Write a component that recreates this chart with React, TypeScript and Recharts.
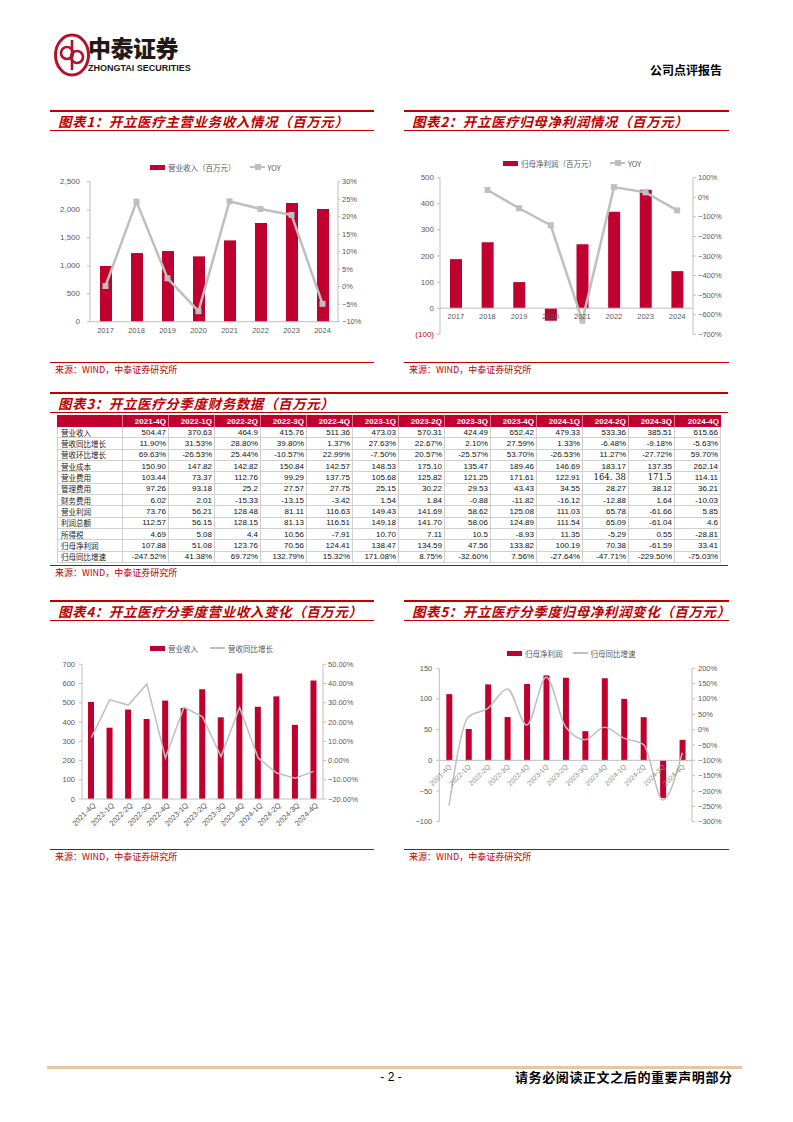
import React from 'react';
import { ComposedChart, Bar, Line, XAxis, YAxis, ReferenceLine } from 'recharts';

// ---- annual data (图表1 / 图表2)
const years = ['2017', '2018', '2019', '2020', '2021', '2022', '2023', '2024'];
const annualRevenue = [995, 1226, 1262, 1167, 1452, 1763, 2120, 2014];
const annualRevenueYoy = [0.2, 24.3, 2.4, -7.0, 24.4, 22.2, 20.5, -4.9];
const annualProfit = [188, 253, 100, -48, 245, 370, 454, 142];
const annualProfitYoy: (number | null)[] = [null, 37, -56, -143, -630, 52, 25, -67];

// ---- quarterly data (图表3 / 4 / 5)
const quarters = ['2021-4Q', '2022-1Q', '2022-2Q', '2022-3Q', '2022-4Q', '2023-1Q', '2023-2Q', '2023-3Q', '2023-4Q', '2024-1Q', '2024-2Q', '2024-3Q', '2024-4Q'];
const revenueQ = [504.47, 370.63, 464.9, 415.76, 511.36, 473.03, 570.31, 424.49, 652.42, 479.33, 533.36, 385.51, 615.66];
const revenueYoyQ = [11.9, 31.53, 28.8, 39.8, 1.37, 27.63, 22.67, 2.1, 27.59, 1.33, -6.48, -9.18, -5.63];
const revenueQoqQ = ['69.63%', '-26.53%', '25.44%', '-10.57%', '22.99%', '-7.50%', '20.57%', '-25.57%', '53.70%', '-26.53%', '11.27%', '-27.72%', '59.70%'];
const costQ = ['150.90', '147.82', '142.82', '150.84', '142.57', '148.53', '175.10', '135.47', '189.46', '146.69', '183.17', '137.35', '262.14'];
const sellingQ = ['103.44', '73.37', '112.76', '99.29', '137.75', '105.68', '125.82', '121.25', '171.61', '122.91', '164. 38', '171.5', '114.11'];
const adminQ = ['97.26', '93.18', '25.2', '27.57', '27.75', '25.15', '30.22', '29.53', '43.43', '34.55', '28.27', '38.12', '36.21'];
const financeQ = ['6.02', '2.01', '-15.33', '-13.15', '-3.42', '1.54', '1.84', '-0.88', '-11.82', '-16.12', '-12.88', '1.64', '-10.03'];
const opProfitQ = ['73.76', '56.21', '128.48', '81.11', '116.63', '149.43', '141.69', '58.62', '125.08', '111.03', '65.78', '-61.66', '5.85'];
const totalProfitQ = ['112.57', '56.15', '128.15', '81.13', '116.51', '149.18', '141.70', '58.06', '124.89', '111.54', '65.09', '-61.04', '4.6'];
const taxQ = ['4.69', '5.08', '4.4', '10.56', '-7.91', '10.70', '7.11', '10.5', '-8.93', '11.35', '-5.29', '0.55', '-28.81'];
const netProfitQ = [107.88, 51.08, 123.76, 70.56, 124.41, 138.47, 134.59, 47.56, 133.82, 100.19, 70.38, -61.59, 33.41];
const netProfitYoyQ = [-247.52, 41.38, 69.72, 132.79, 15.32, 171.08, 8.75, -32.6, 7.56, -27.64, -47.71, -229.5, -75.03];

const RED = '#c0002f';
const TITLE_RED = '#c00000';
const GRAY = '#bfbfbf';
const AXIS = '#bfbfbf';
const TXT = '#595959';
const NUM = "'Liberation Sans', Arial, sans-serif";
const CJK = "'Noto Sans CJK SC', sans-serif";

const annualData = years.map((y, i) => ({ year: y, rev: annualRevenue[i], revYoy: annualRevenueYoy[i], np: annualProfit[i], npYoy: annualProfitYoy[i] }));
const quarterData = quarters.map((q, i) => ({ q, rev: revenueQ[i], revYoy: revenueYoyQ[i], np: netProfitQ[i], npYoy: netProfitYoyQ[i] }));

const tableRows: [string, string[]][] = [
  ['营业收入', revenueQ.map(v => String(v))],
  ['营收同比增长', revenueYoyQ.map(v => v.toFixed(2) + '%')],
  ['营收环比增长', revenueQoqQ],
  ['营业成本', costQ],
  ['营业费用', sellingQ],
  ['管理费用', adminQ],
  ['财务费用', financeQ],
  ['营业利润', opProfitQ],
  ['利润总额', totalProfitQ],
  ['所得税', taxQ],
  ['归母净利润', netProfitQ.map(v => String(v))],
  ['归母同比增速', netProfitYoyQ.map(v => v.toFixed(2) + '%')],
];

const minus = (v: number, s: string) => (v < 0 ? '−' : '') + s;

const yTick = (fmt: (v: number) => string, size = 8, color?: (v: number) => string) => (p: any) => (
  <text x={p.x} y={p.y} textAnchor={p.textAnchor} dominantBaseline="central" fontSize={size} fontFamily={NUM} fill={color ? color(p.payload.value) : TXT}>
    {fmt(p.payload.value)}
  </text>
);

const SquareDot = (p: any) => {
  if (p.cy == null || p.value == null) return <g key={p.index} />;
  return <rect key={p.index} x={p.cx - 3} y={p.cy - 3} width={6} height={6} fill={GRAY} />;
};

const Header = ({ x, w, y, title }: { x: number; w: number; y: number; title: string }) => (
  <>
    <div style={{ position: 'absolute', left: x, top: y, width: w, height: 2, background: TITLE_RED }} />
    <div style={{ position: 'absolute', left: x + 8, top: y + 3, height: 17, lineHeight: '17px', fontFamily: CJK, fontSize: 13.5, fontWeight: 700, fontStyle: 'italic', color: TITLE_RED, letterSpacing: 0.6, whiteSpace: 'nowrap' }}>{title}</div>
    <div style={{ position: 'absolute', left: x, top: y + 20, width: w, height: 1, background: TITLE_RED }} />
  </>
);

const Source = ({ x, w, y }: { x: number; w: number; y: number }) => (
  <>
    <div style={{ position: 'absolute', left: x, top: y, width: w, height: 1, background: TITLE_RED }} />
    <div style={{ position: 'absolute', left: x + 5, top: y + 2, lineHeight: '12px', fontFamily: CJK, fontSize: 9, color: TITLE_RED, whiteSpace: 'nowrap' }}>来源：WIND，中泰证券研究所</div>
  </>
);

const Legend = ({ x, y, items }: { x: number; y: number; items: { label: string; kind: 'bar' | 'line' | 'lineDot'; gap?: number }[] }) => (
  <div style={{ position: 'absolute', left: x, top: y - 6, height: 12, display: 'flex', alignItems: 'center', fontFamily: CJK, fontSize: 7.5, color: TXT, whiteSpace: 'nowrap' }}>
    {items.map((it, i) => (
      <div key={i} style={{ display: 'flex', alignItems: 'center', marginLeft: i ? it.gap ?? 14 : 0 }}>
        {it.kind === 'bar' ? (
          <div style={{ width: 15, height: 5, background: RED, marginRight: 3 }} />
        ) : (
          <div style={{ position: 'relative', width: 15, height: 6, marginRight: 3 }}>
            <div style={{ position: 'absolute', left: 0, top: 2, width: 15, height: 2, background: GRAY }} />
            {it.kind === 'lineDot' && <div style={{ position: 'absolute', left: 5, top: 0, width: 6, height: 6, background: GRAY }} />}
          </div>
        )}
        <span>{it.label}</span>
      </div>
    ))}
  </div>
);

const yearTick = (dy: number) => (p: any) => (
  <text x={p.x} y={p.y + dy} textAnchor="middle" dominantBaseline="central" fontSize={7.5} fontFamily={NUM} fill={TXT}>{p.payload.value}</text>
);

// chart 2 geometry, used to put the category labels under the zero line
const C2 = { top: 7.7, plotH: 156.6, min: -100, max: 500 };
const c2Zero = C2.top + (C2.plotH * C2.max) / (C2.max - C2.min);
// chart 5 geometry
const C5 = { top: 8.3, plotH: 153.4, min: -100, max: 150 };
const c5Zero = C5.top + (C5.plotH * C5.max) / (C5.max - C5.min);

const Chart1 = () => (
  <div style={{ position: 'absolute', left: 40, top: 175 }}>
    <ComposedChart width={340} height={170} data={annualData} margin={{ top: 6.7, right: 2, bottom: 3.3, left: 0 }}>
      <XAxis dataKey="year" height={20} interval={0} axisLine={{ stroke: AXIS }} tickLine={false} tickSize={0} tickMargin={0} tick={yearTick(8.5)} />
      <YAxis yAxisId="l" width={50} interval={0} domain={[0, 2500]} ticks={[0, 500, 1000, 1500, 2000, 2500]} axisLine={{ stroke: AXIS }} tickLine={{ stroke: AXIS }} tickSize={3} tickMargin={7}
        tick={yTick(v => v.toLocaleString('en-US'))} />
      <YAxis yAxisId="r" orientation="right" width={40} interval={0} domain={[-10, 30]} ticks={[-10, -5, 0, 5, 10, 15, 20, 25, 30]} axisLine={{ stroke: AXIS }} tickLine={{ stroke: AXIS }} tickSize={2} tickMargin={2}
        tick={yTick(v => minus(v, Math.abs(v) + '%'), 7.5)} />
      <Bar yAxisId="l" dataKey="rev" fill={RED} barSize={12} isAnimationActive={false} />
      <Line yAxisId="r" dataKey="revYoy" type="linear" stroke={GRAY} strokeWidth={2.5} dot={SquareDot} activeDot={false} isAnimationActive={false} />
    </ComposedChart>
  </div>
);

const Chart2 = () => (
  <div style={{ position: 'absolute', left: 400, top: 170 }}>
    <ComposedChart width={340} height={177} data={annualData} margin={{ top: C2.top, right: 2, bottom: 2.7, left: 0 }}>
      <XAxis dataKey="year" height={10} interval={0} axisLine={false} tickLine={false} tickSize={0} tickMargin={0}
        tick={(p: any) => <text x={p.x} y={c2Zero + 8} textAnchor="middle" dominantBaseline="central" fontSize={7.5} fontFamily={NUM} fill={TXT}>{p.payload.value}</text>} />
      <YAxis yAxisId="l" width={40} interval={0} domain={[C2.min, C2.max]} ticks={[-100, 0, 100, 200, 300, 400, 500]} axisLine={{ stroke: AXIS }} tickLine={{ stroke: AXIS }} tickSize={3} tickMargin={3}
        tick={yTick(v => (v < 0 ? `(${Math.abs(v)})` : String(v)), 8, v => (v < 0 ? TITLE_RED : TXT))} />
      <YAxis yAxisId="r" orientation="right" width={45} interval={0} domain={[-700, 100]} ticks={[-700, -600, -500, -400, -300, -200, -100, 0, 100]} axisLine={{ stroke: AXIS }} tickLine={{ stroke: AXIS }} tickSize={3} tickMargin={2}
        tick={yTick(v => minus(v, Math.abs(v) + '%'), 7.5)} />
      <ReferenceLine yAxisId="l" y={0} stroke={AXIS} />
      <Bar yAxisId="l" dataKey="np" fill={RED} barSize={12} isAnimationActive={false} />
      <Line yAxisId="r" dataKey="npYoy" type="linear" stroke={GRAY} strokeWidth={2.5} dot={SquareDot} activeDot={false} isAnimationActive={false} />
    </ComposedChart>
  </div>
);

const Chart4 = () => (
  <div style={{ position: 'absolute', left: 42, top: 655 }}>
    <ComposedChart width={333} height={186} data={quarterData} margin={{ top: 9.3, right: 2, bottom: 2, left: 0 }}>
      <XAxis dataKey="q" height={40} interval={0} axisLine={{ stroke: AXIS }} tickLine={false} tickSize={0} tickMargin={0}
        tick={(p: any) => (
          <text x={p.x + 3} y={p.y + 5} transform={`rotate(-45 ${p.x + 3} ${p.y + 5})`} textAnchor="end" dominantBaseline="central" fontSize={7.5} fontFamily={NUM} fill={TXT}>{p.payload.value}</text>
        )} />
      <YAxis yAxisId="l" width={40} interval={0} domain={[0, 700]} ticks={[0, 100, 200, 300, 400, 500, 600, 700]} axisLine={{ stroke: AXIS }} tickLine={{ stroke: AXIS }} tickSize={3} tickMargin={4}
        tick={yTick(v => String(v), 7.5)} />
      <YAxis yAxisId="r" orientation="right" width={50} interval={0} domain={[-20, 50]} ticks={[-20, -10, 0, 10, 20, 30, 40, 50]} axisLine={{ stroke: AXIS }} tickLine={{ stroke: AXIS }} tickSize={3} tickMargin={2}
        tick={yTick(v => minus(v, Math.abs(v).toFixed(2) + '%'), 7.5)} />
      <Bar yAxisId="l" dataKey="rev" fill={RED} barSize={6} isAnimationActive={false} />
      <Line yAxisId="r" dataKey="revYoy" type="linear" stroke={GRAY} strokeWidth={1.5} dot={false} activeDot={false} isAnimationActive={false} />
    </ComposedChart>
  </div>
);

const Chart5 = () => (
  <div style={{ position: 'absolute', left: 400, top: 660 }}>
    <ComposedChart width={339} height={172} data={quarterData} margin={{ top: C5.top, right: 2, bottom: 2.3, left: 0 }}>
      <XAxis dataKey="q" height={8} interval={0} axisLine={false} tickLine={false} tickSize={0} tickMargin={0}
        tick={(p: any) => (
          <text x={p.x + 1} y={c5Zero + 5} transform={`rotate(-45 ${p.x + 1} ${c5Zero + 5})`} textAnchor="end" dominantBaseline="central" fontSize={7} fontFamily={NUM} fill="#8c8c8c">{p.payload.value}</text>
        )} />
      <YAxis yAxisId="l" width={39.3} interval={0} domain={[C5.min, C5.max]} ticks={[-100, -50, 0, 50, 100, 150]} axisLine={{ stroke: AXIS }} tickLine={{ stroke: AXIS }} tickSize={3} tickMargin={4}
        tick={yTick(v => minus(v, String(Math.abs(v))), 7.5)} />
      <YAxis yAxisId="r" orientation="right" width={45} interval={0} domain={[-300, 200]} ticks={[-300, -250, -200, -150, -100, -50, 0, 50, 100, 150, 200]} axisLine={{ stroke: AXIS }} tickLine={{ stroke: AXIS }} tickSize={3} tickMargin={3}
        tick={yTick(v => minus(v, Math.abs(v) + '%'), 7.5)} />
      <ReferenceLine yAxisId="l" y={0} stroke={AXIS} />
      <Bar yAxisId="l" dataKey="np" fill={RED} barSize={6} isAnimationActive={false} />
      <Line yAxisId="r" dataKey="npYoy" type="monotone" stroke={GRAY} strokeWidth={1.5} dot={false} activeDot={false} isAnimationActive={false} />
    </ComposedChart>
  </div>
);

const Table = () => {
  const rowH = 11.33;
  const cell = (w: number, extra: React.CSSProperties = {}): React.CSSProperties => ({
    width: w, boxSizing: 'border-box', height: '100%', display: 'flex', alignItems: 'center', ...extra,
  });
  return (
    <div style={{ position: 'absolute', left: 57, top: 415, width: 664 }}>
      <div style={{ display: 'flex', height: 12, background: RED }}>
        <div style={cell(66, { borderRight: '1px solid rgba(255,255,255,0.45)' })} />
        {quarters.map((q, i) => (
          <div key={q} style={cell(46, { justifyContent: 'flex-end', paddingRight: 2, borderRight: i < 12 ? '1px solid rgba(255,255,255,0.45)' : 'none', color: '#fff', fontFamily: NUM, fontWeight: 700, fontSize: 8 })}>{q}</div>
        ))}
      </div>
      {tableRows.map(([label, vals]) => (
        <div key={label} style={{ display: 'flex', height: rowH, borderBottom: '1px solid #d0d0d0', boxSizing: 'border-box', background: '#fff' }}>
          <div style={cell(66, { paddingLeft: 3, borderRight: '1px solid #d0d0d0', borderLeft: '1px solid #d0d0d0', fontFamily: CJK, fontSize: 7.5, color: '#222' })}>{label}</div>
          {vals.map((v, i) => {
            const odd = label === '营业费用' && (i === 10 || i === 11);
            return (
              <div key={i} style={cell(46, { justifyContent: 'flex-end', paddingRight: 2, borderRight: '1px solid #d0d0d0', fontFamily: odd ? "'DejaVu Serif', serif" : NUM, fontSize: odd ? 8.5 : 8, color: '#111' })}>{v}</div>
            );
          })}
        </div>
      ))}
    </div>
  );
};

const Logo = () => (
  <svg style={{ position: 'absolute', left: 53, top: 32 }} width={38} height={46} viewBox="0 0 38 46">
    <ellipse cx={19} cy={23} rx={16.5} ry={20} fill="none" stroke="#b3122a" strokeWidth={3} />
    <circle cx={14} cy={21} r={6} fill="none" stroke="#b3122a" strokeWidth={2.6} />
    <circle cx={24} cy={25} r={6} fill="none" stroke="#b3122a" strokeWidth={2.6} />
    <line x1={19} y1={8} x2={19} y2={38} stroke="#b3122a" strokeWidth={2.6} />
  </svg>
);

export default function App() {
  return (
    <div style={{ position: 'absolute', left: 0, top: 0, width: 793, height: 1122, background: '#fff', overflow: 'hidden' }}>
      <Logo />
      <div style={{ position: 'absolute', left: 88, top: 33, fontFamily: CJK, fontSize: 23, fontWeight: 900, color: '#231815', letterSpacing: -0.5, lineHeight: '28px', whiteSpace: 'nowrap' }}>中泰证券</div>
      <div style={{ position: 'absolute', left: 88, top: 63, fontFamily: "'Liberation Sans Narrow', 'Liberation Sans', sans-serif", fontSize: 9, fontWeight: 700, color: '#231815', lineHeight: '11px', whiteSpace: 'nowrap' }}>ZHONGTAI SECURITIES</div>
      <div style={{ position: 'absolute', left: 650, top: 62, fontFamily: CJK, fontSize: 12, fontWeight: 700, color: '#000', lineHeight: '16px', whiteSpace: 'nowrap' }}>公司点评报告</div>

      <Header x={50} w={324} y={110} title="图表1：开立医疗主营业务收入情况（百万元）" />
      <Header x={404} w={325} y={110} title="图表2：开立医疗归母净利润情况（百万元）" />
      <Legend x={150} y={167} items={[{ label: '营业收入（百万元）', kind: 'bar' }, { label: 'YOY', kind: 'lineDot' }]} />
      <Legend x={503} y={163} items={[{ label: '归母净利润（百万元）', kind: 'bar' }, { label: 'YOY', kind: 'lineDot' }]} />
      <Chart1 />
      <Chart2 />
      <Source x={50} w={324} y={362} />
      <Source x={404} w={325} y={362} />

      <Header x={50} w={678} y={392} title="图表3：开立医疗分季度财务数据（百万元）" />
      <Table />
      <Source x={50} w={678} y={565} />

      <Header x={50} w={324} y={600} title="图表4：开立医疗分季度营业收入变化（百万元）" />
      <Header x={404} w={325} y={600} title="图表5：开立医疗分季度归母净利润变化（百万元）" />
      <Legend x={150} y={648} items={[{ label: '营业收入', kind: 'bar' }, { label: '营收同比增长', kind: 'line', gap: 12 }]} />
      <Legend x={507} y={653} items={[{ label: '归母净利润', kind: 'bar' }, { label: '归母同比增速', kind: 'line', gap: 10 }]} />
      <Chart4 />
      <Chart5 />
      <Source x={50} w={324} y={849} />
      <Source x={404} w={325} y={849} />

      <div style={{ position: 'absolute', left: 47, top: 1066, width: 695, height: 3, background: '#e8c4a8' }} />
      <div style={{ position: 'absolute', left: 370, top: 1070, width: 42, textAlign: 'center', fontFamily: NUM, fontSize: 12, color: '#000', lineHeight: '14px' }}>- 2 -</div>
      <div style={{ position: 'absolute', left: 515, top: 1069, fontFamily: CJK, fontSize: 13, fontWeight: 700, color: '#000', letterSpacing: 0.6, lineHeight: '16px', whiteSpace: 'nowrap' }}>请务必阅读正文之后的重要声明部分</div>
    </div>
  );
}
